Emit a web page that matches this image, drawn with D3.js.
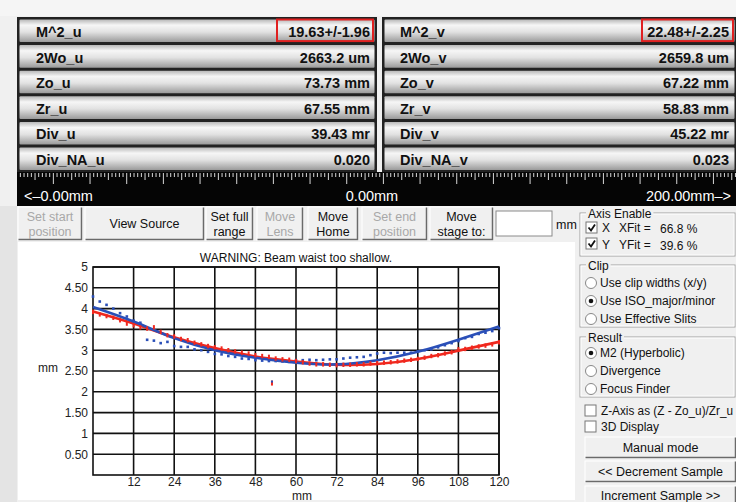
<!DOCTYPE html>
<html>
<head>
<meta charset="utf-8">
<script src="https://cdn.jsdelivr.net/npm/d3@7"></script>
<style>
  body { margin: 0; background: #f0f0f0; }
  svg { display: block; font-family: "Liberation Sans", Arial, sans-serif; }
</style>
</head>
<body>
<script>
// ---- data ----
var labelsU = ["M^2_u", "2Wo_u", "Zo_u", "Zr_u", "Div_u", "Div_NA_u"];
var valuesU = ["19.63+/-1.96", "2663.2 um", "73.73 mm", "67.55 mm", "39.43 mr", "0.020"];
var labelsV = ["M^2_v", "2Wo_v", "Zo_v", "Zr_v", "Div_v", "Div_NA_v"];
var valuesV = ["22.48+/-2.25", "2659.8 um", "67.22 mm", "58.83 mm", "45.22 mr", "0.023"];

var xTicks = [12, 24, 36, 48, 60, 72, 84, 96, 108, 120];
var yTicks = [0.5, 1, 1.5, 2, 2.5, 3, 3.5, 4, 4.5, 5];
var yTickLabels = ["0.50", "1", "1.50", "2", "2.50", "3", "3.50", "4", "4.50", "5"];

// fitted curves (mm vs mm)
var fitZ    = [0, 12, 24, 36, 48, 60, 72, 84, 96, 108, 120];
var redFit  = [3.93, 3.64, 3.31, 3.05, 2.85, 2.73, 2.65, 2.67, 2.79, 2.99, 3.20];
var blueFit = [4.04, 3.69, 3.29, 3.00, 2.82, 2.70, 2.66, 2.76, 2.96, 3.25, 3.57];

// measured samples
var sampleZ = [0, 2, 4, 6, 8, 10, 12, 14, 16, 18, 20, 22, 24, 26, 28, 30, 32, 34, 36, 38,
               40, 42, 44, 46, 48, 50, 52, 54, 56, 58, 60, 62, 64, 66, 68, 70, 72, 74, 76, 78,
               80, 82, 84, 86, 88, 90, 92, 94, 96, 98, 100, 102, 104, 106, 108, 110, 112, 114, 116, 118, 120];
var blueSamples = [4.29, 4.17, 4.09, 4.00, 3.89, 3.81, 3.71, 3.66, 3.25, 3.23, 3.17, 3.20, 3.10, 3.08, 3.08, 3.02, 3.00, 2.96, 2.91, 2.90,
                   2.86, 2.84, 2.80, 2.79, 2.76, 2.75, 2.74, 2.74, 2.73, 2.72, 2.76, 2.76, 2.77, 2.76, 2.77, 2.78, 2.78, 2.80, 2.82, 2.83,
                   2.84, 2.88, 2.92, 2.94, 2.93, 2.94, 2.94, 2.94, 2.97, 3.00, 3.02, 3.07, 3.12, 3.17, 3.22, 3.29, 3.32, 3.39, 3.42, 3.46, 3.53];
var redSamples  = [3.92, 3.86, 3.82, 3.78, 3.72, 3.64, 3.60, 3.55, 3.52, 3.55, 3.44, 3.36, 3.33, 3.27, 3.24, 3.18, 3.14, 3.10, 3.07, 3.04,
                   3.00, 2.97, 2.94, 2.92, 2.88, 2.86, 2.84, 2.80, 2.78, 2.77, 2.74, 2.71, 2.68, 2.66, 2.66, 2.65, 2.64, 2.65, 2.65, 2.66,
                   2.66, 2.68, 2.69, 2.70, 2.71, 2.73, 2.75, 2.77, 2.79, 2.82, 2.86, 2.88, 2.92, 2.95, 3.02, 3.03, 3.06, 3.09, 3.11, 3.14, 3.19];
// the stray sample near 53 mm
var strayZ = [52.9];
var strayV = [2.21];

var svg = d3.select("body").append("svg")
    .attr("width", 736)
    .attr("height", 502);

var defs = svg.append("defs");
var grad = defs.append("linearGradient").attr("id", "rowGrad")
    .attr("x1", 0).attr("y1", 0).attr("x2", 0).attr("y2", 1);
grad.append("stop").attr("offset", "0%").attr("stop-color", "#b8b8b8");
grad.append("stop").attr("offset", "25%").attr("stop-color", "#f6f6f6");
grad.append("stop").attr("offset", "55%").attr("stop-color", "#e2e2e2");
grad.append("stop").attr("offset", "100%").attr("stop-color", "#9a9a9a");

// background
svg.append("rect").attr("width", 736).attr("height", 502).attr("fill", "#f0f0f0");
svg.append("rect").attr("x", 0).attr("y", 0).attr("width", 736).attr("height", 16).attr("fill", "#f5f5f5");
svg.append("rect").attr("x", 0).attr("y", 206).attr("width", 17).attr("height", 296).attr("fill", "#e4e4e4");

// ---- parameter tables ----
var rowH = 25.6, rowTop = 18;
function drawTable(x0, x1, labels, values, labelX, valueX, boxX0) {
  var g = svg.append("g");
  g.append("rect").attr("x", x0 - 1).attr("y", rowTop - 1)
      .attr("width", x1 - x0 + 2).attr("height", rowH * labels.length + 2)
      .attr("fill", "#222");
  labels.forEach(function(lab, i) {
    var top = rowTop + i * rowH;
    g.append("rect").attr("x", x0 + 1.5).attr("y", top + 1.5)
        .attr("width", x1 - x0 - 3).attr("height", rowH - 3)
        .attr("fill", "url(#rowGrad)").attr("rx", 1);
    g.append("text").attr("x", labelX).attr("y", top + 19)
        .attr("font-size", 14.5).attr("font-weight", "bold").attr("fill", "#111")
        .text(lab);
    g.append("text").attr("x", valueX).attr("y", top + 19)
        .attr("text-anchor", "end")
        .attr("font-size", 14.5).attr("font-weight", "bold").attr("fill", "#111")
        .text(values[i]);
  });
  // highlighted first value
  g.append("rect").attr("x", boxX0).attr("y", rowTop + 1.5)
      .attr("width", x1 - 3 - boxX0).attr("height", rowH - 4)
      .attr("fill", "none").attr("stroke", "#e02020").attr("stroke-width", 2);
}
drawTable(18, 376, labelsU, valuesU, 36, 370, 277);
drawTable(383, 736, labelsV, valuesV, 400, 729, 642);

// ---- ruler ----
var rulerTop = 172, rulerH = 34;
svg.append("rect").attr("x", 17).attr("y", rulerTop).attr("width", 719).attr("height", rulerH).attr("fill", "#050505");
var rx = d3.scaleLinear().domain([0, 200]).range([16.7, 16.7 + 200 * 3.667]);
var rulerTicks = d3.range(1, 197);
svg.append("g").selectAll("line").data(rulerTicks).join("line")
    .attr("x1", function(d) { return rx(d); })
    .attr("x2", function(d) { return rx(d); })
    .attr("y1", rulerTop + 1)
    .attr("y2", function(d) { return rulerTop + 1 + (d % 10 === 0 ? 11 : d % 5 === 0 ? 7 : 4); })
    .attr("stroke", "#d8d8d8").attr("stroke-width", 1);
svg.append("text").attr("x", 24).attr("y", 201).attr("fill", "#fff").attr("font-size", 14.5).text("<\u20130.00mm");
svg.append("text").attr("x", 372).attr("y", 201).attr("fill", "#fff").attr("font-size", 14.5)
    .attr("text-anchor", "middle").text("0.00mm");
svg.append("text").attr("x", 731).attr("y", 201).attr("fill", "#fff").attr("font-size", 14.5)
    .attr("text-anchor", "end").text("200.00mm\u2013>");

// ---- button row ----
function button(x0, x1, y0, y1, lines, disabled, size) {
  var g = svg.append("g");
  g.append("rect").attr("x", x0).attr("y", y0).attr("width", x1 - x0).attr("height", y1 - y0)
      .attr("fill", "#f0f0f0").attr("stroke", "#fff").attr("stroke-width", 1);
  g.append("path").attr("d", "M" + (x0 + 0.5) + "," + (y1 - 0.5) + "H" + (x1 - 0.5) + "V" + (y0 + 0.5))
      .attr("fill", "none").attr("stroke", "#6a6a6a").attr("stroke-width", 1.5);
  var cx = (x0 + x1) / 2, cy = (y0 + y1) / 2;
  var fs = size || 12.5;
  lines.forEach(function(t, i) {
    g.append("text").attr("x", cx)
        .attr("y", cy + 4.5 + (i - (lines.length - 1) / 2) * 15)
        .attr("text-anchor", "middle").attr("font-size", fs)
        .attr("fill", disabled ? "#a8a8a8" : "#111").text(t);
  });
}
button(18, 82, 207, 240, ["Set start", "position"], true);
button(85, 204, 207, 240, ["View Source"], false);
button(206, 253, 207, 240, ["Set full", "range"], false);
button(257, 303, 207, 240, ["Move", "Lens"], true);
button(308, 358, 207, 240, ["Move", "Home"], false);
button(362, 427, 207, 240, ["Set end", "position"], true);
button(430, 493, 207, 240, ["Move", "stage to:"], false);
svg.append("rect").attr("x", 496).attr("y", 211).attr("width", 56).attr("height", 25)
    .attr("fill", "#fff").attr("stroke", "#8a8a8a");
svg.append("text").attr("x", 556).attr("y", 229).attr("font-size", 12.5).attr("fill", "#111").text("mm");

// ---- chart panel ----
svg.append("rect").attr("x", 18).attr("y", 242).attr("width", 557).attr("height", 258).attr("fill", "#fff");

var x = d3.scaleLinear().domain([0, 120]).range([93, 499]);
var y = d3.scaleLinear().domain([0, 5]).range([475, 267]);

var chart = svg.append("g");
// grid
chart.append("g").selectAll("line").data(xTicks).join("line")
    .attr("x1", function(d) { return x(d); }).attr("x2", function(d) { return x(d); })
    .attr("y1", y(0)).attr("y2", y(5))
    .attr("stroke", "#111").attr("stroke-width", 1.6);
chart.append("g").selectAll("line").data(yTicks).join("line")
    .attr("x1", x(0)).attr("x2", x(120))
    .attr("y1", function(d) { return y(d); }).attr("y2", function(d) { return y(d); })
    .attr("stroke", "#111").attr("stroke-width", 1.6);
chart.append("rect").attr("x", x(0)).attr("y", y(5))
    .attr("width", x(120) - x(0)).attr("height", y(0) - y(5))
    .attr("fill", "none").attr("stroke", "#111").attr("stroke-width", 1.6);

// axes labels
var xAxis = chart.append("g").attr("transform", "translate(0," + y(0) + ")")
    .call(d3.axisBottom(x).tickValues(xTicks).tickSize(0).tickPadding(2));
xAxis.select(".domain").remove();
xAxis.selectAll("text").attr("font-size", 12).attr("fill", "#222").attr("font-family", null);

var yAxis = chart.append("g").attr("transform", "translate(" + x(0) + ",0)")
    .call(d3.axisLeft(y).tickValues(yTicks).tickSize(0).tickPadding(5)
      .tickFormat(function(d, i) { return yTickLabels[i]; }));
yAxis.select(".domain").remove();
yAxis.selectAll("text").attr("font-size", 12).attr("fill", "#222").attr("font-family", null);

chart.append("text").attr("x", 38).attr("y", 372).attr("font-size", 12).attr("fill", "#222").text("mm");
chart.append("text").attr("x", 302).attr("y", 500).attr("font-size", 12).attr("fill", "#222")
    .attr("text-anchor", "middle").text("mm");
chart.append("text").attr("x", 296).attr("y", 262).attr("font-size", 12).attr("fill", "#111")
    .attr("text-anchor", "middle").text("WARNING: Beam waist too shallow.");

// fit curves
var line = d3.line().x(function(d) { return x(d[0]); }).y(function(d) { return y(d[1]); })
    .curve(d3.curveNatural);
chart.append("path").attr("d", line(d3.zip(fitZ, redFit)))
    .attr("fill", "none").attr("stroke", "#f0281e").attr("stroke-width", 2.6);
chart.append("path").attr("d", line(d3.zip(fitZ, blueFit)))
    .attr("fill", "none").attr("stroke", "#2a4fb8").attr("stroke-width", 2.6);

// samples
chart.append("g").selectAll("rect").data(d3.zip(sampleZ, blueSamples)).join("rect")
    .attr("x", function(d) { return x(d[0]) - 1.3; })
    .attr("y", function(d) { return y(d[1]) - 1.3; })
    .attr("width", 2.6).attr("height", 2.6).attr("fill", "#2a4fb8");
chart.append("g").selectAll("rect").data(d3.zip(sampleZ, redSamples)).join("rect")
    .attr("x", function(d) { return x(d[0]) - 1; })
    .attr("y", function(d) { return y(d[1]) - 2.2; })
    .attr("width", 2).attr("height", 4.4).attr("fill", "#f0281e");
chart.append("g").selectAll("rect").data(d3.zip(strayZ, strayV)).join("rect")
    .attr("x", function(d) { return x(d[0]) - 1; })
    .attr("y", function(d) { return y(d[1]) - 2.5; })
    .attr("width", 2).attr("height", 5).attr("fill", "#f0281e");
chart.append("g").selectAll("rect").data(d3.zip(strayZ, strayV)).join("rect")
    .attr("x", function(d) { return x(d[0]) - 1; })
    .attr("y", function(d) { return y(d[1]) - 2.5; })
    .attr("width", 2).attr("height", 2).attr("fill", "#2a4fb8");

// ---- right side controls ----
var fs = 12;
function groupBox(x0, y0, x1, y1, title) {
  var g = svg.append("g");
  g.append("rect").attr("x", x0).attr("y", y0).attr("width", x1 - x0).attr("height", y1 - y0)
      .attr("fill", "none").attr("stroke", "#a0a0a0");
  g.append("rect").attr("x", x0 + 1).attr("y", y0 + 1).attr("width", x1 - x0 - 2).attr("height", y1 - y0 - 2)
      .attr("fill", "none").attr("stroke", "#fff");
  var bg = g.append("rect").attr("y", y0 - 3).attr("height", 6).attr("fill", "#f0f0f0");
  var t = g.append("text").attr("x", x0 + 8).attr("y", y0 + 4.5).attr("font-size", fs).attr("fill", "#111").text(title);
  var w = t.node().getComputedTextLength();
  bg.attr("x", x0 + 6).attr("width", w + 4);
}
function checkbox(cx, cy, checked) {
  svg.append("rect").attr("x", cx).attr("y", cy).attr("width", 11).attr("height", 11)
      .attr("fill", "#fff").attr("stroke", "#777");
  if (checked) {
    svg.append("path").attr("d", "M" + (cx + 2.5) + "," + (cy + 5.5) + "l2.5,3l4,-6")
        .attr("fill", "none").attr("stroke", "#111").attr("stroke-width", 1.8);
  }
}
function radio(cx, cy, on) {
  svg.append("circle").attr("cx", cx).attr("cy", cy).attr("r", 5.5)
      .attr("fill", "#fff").attr("stroke", "#888");
  if (on) svg.append("circle").attr("cx", cx).attr("cy", cy).attr("r", 2.3).attr("fill", "#111");
}
function label(tx, ty, t) {
  return svg.append("text").attr("x", tx).attr("y", ty).attr("font-size", fs).attr("fill", "#111").text(t);
}

groupBox(580, 213, 735, 256, "Axis Enable");
checkbox(586, 222, true);
label(602, 232, "X");
label(619, 232, "XFit =");
label(660, 233, "66.8 %");
checkbox(586, 238, true);
label(602, 249, "Y");
label(619, 249, "YFit =");
label(660, 250, "39.6 %");

groupBox(580, 265, 735, 327, "Clip");
radio(591, 283, false); label(600, 287, "Use clip widths (x/y)");
radio(591, 301, true);  label(600, 305, "Use ISO_major/minor");
radio(591, 319, false); label(600, 323, "Use Effective Slits");

groupBox(580, 337, 735, 397, "Result");
radio(591, 353, true);  label(600, 357, "M2 (Hyperbolic)");
radio(591, 371, false); label(600, 375, "Divergence");
radio(591, 389, false); label(600, 393, "Focus Finder");

checkbox(585, 405, false);
label(601, 415, "Z-Axis as (Z - Zo_u)/Zr_u")
    .attr("textLength", 132).attr("lengthAdjust", "spacingAndGlyphs");
checkbox(585, 421, false); label(601, 431, "3D Display");

button(585, 736, 437, 458, ["Manual mode"], false);
button(585, 736, 461, 482, ["<< Decrement Sample"], false);
button(585, 736, 486, 504, ["Increment Sample >>"], false);
</script>
</body>
</html>
